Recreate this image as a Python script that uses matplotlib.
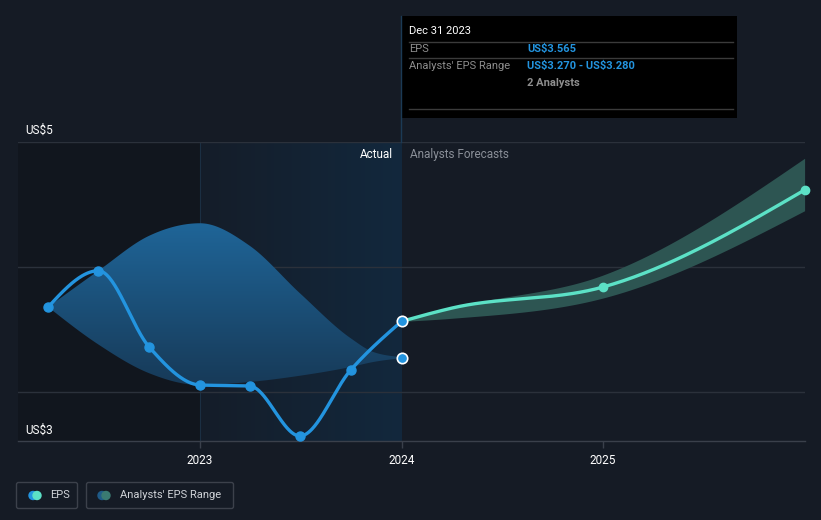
import numpy as np
import pandas as pd
import matplotlib
matplotlib.use("Agg")
import matplotlib.pyplot as plt
from matplotlib.patches import Rectangle, FancyBboxPatch, Polygon, Circle
from matplotlib.colors import LinearSegmentedColormap, to_rgba

plt.rcParams['font.family'] = ['Roboto', 'DejaVu Sans']

# past EPS (quarterly, trailing)
eps_dates = ["2022-03-31", "2022-06-30", "2022-09-30", "2022-12-31",
             "2023-03-31", "2023-06-30", "2023-09-30", "2023-12-31"]
eps_values = [3.68, 3.97, 3.36, 3.056, 3.048, 2.648, 3.176, 3.565]
# past analysts' EPS range
range_dates = ["2022-03-31", "2022-06-30", "2022-09-30", "2022-12-31",
               "2023-03-31", "2023-06-30", "2023-09-30", "2023-11-10", "2023-12-31"]
range_low = [3.68, 3.38, 3.15, 3.056, 3.08, 3.13, 3.20, 3.24, 3.27]
range_high = [3.68, 3.97, 4.25, 4.35, 4.17, 3.79, 3.43, 3.32, 3.28]

# analysts forecasts
fc_dates = ["2023-12-31", "2024-04-01", "2024-12-31", "2025-12-31"]
fc_values = [3.565, 3.672, 3.84, 4.616]
fc_low = [3.565, 3.59, 3.752, 4.45]
fc_high = [3.565, 3.675, 3.936, 4.87]
fc_marked = [False, False, True, True]

year_ticks = [2023, 2024, 2025]

BG = "#151b25"
BLUE = "#2394df"
MINT = "#5ce1c6"
GRID = "#2b313b"


def to_year(dates):
    d = pd.to_datetime(dates)
    return np.array([t.year + (t.dayofyear - 1) / (366 if t.is_leap_year else 365) for t in d]) \
        + 1.0 / 365


def monotone(x, y, n=60):
    # monotone cubic curve (like d3 curveMonotoneX)
    x = np.asarray(x, float)
    y = np.asarray(y, float)
    h = np.diff(x)
    s = np.diff(y) / h
    t = np.zeros(len(x))
    for i in range(1, len(x) - 1):
        p = (s[i - 1] * h[i] + s[i] * h[i - 1]) / (h[i - 1] + h[i])
        t[i] = (np.sign(s[i - 1]) + np.sign(s[i])) * min(abs(s[i - 1]), abs(s[i]), 0.5 * abs(p))
    t[0] = (3 * s[0] - t[1]) / 2 if len(x) > 2 else s[0]
    t[-1] = (3 * s[-1] - t[-2]) / 2 if len(x) > 2 else s[-1]
    xs, ys = [], []
    for i in range(len(h)):
        u = np.linspace(0, 1, n)
        h00 = 2 * u ** 3 - 3 * u ** 2 + 1
        h10 = u ** 3 - 2 * u ** 2 + u
        h01 = -2 * u ** 3 + 3 * u ** 2
        h11 = u ** 3 - u ** 2
        xs.append(x[i] + u * h[i])
        ys.append(h00 * y[i] + h10 * h[i] * t[i] + h01 * y[i + 1] + h11 * h[i] * t[i + 1])
    return np.concatenate(xs), np.concatenate(ys)


def gradient_band(ax, x, lo, hi, c_top, c_bot, z):
    poly = Polygon(np.column_stack([np.r_[x, x[::-1]], np.r_[hi, lo[::-1]]]),
                   closed=True, facecolor='none', edgecolor='none')
    ax.add_patch(poly)
    cmap = LinearSegmentedColormap.from_list('g', [c_bot, c_top])
    grad = np.linspace(0, 1, 256).reshape(-1, 1)
    im = ax.imshow(grad, cmap=cmap, aspect='auto', origin='lower', interpolation='bilinear',
                   extent=[x.min(), x.max(), min(lo.min(), hi.min()), max(lo.max(), hi.max())], zorder=z)
    im.set_clip_path(poly)


W, H = 821, 520
fig = plt.figure(figsize=(W / 100, H / 100), dpi=100, facecolor=BG)
ax = fig.add_axes([18 / W, 1 - 441 / H, (805 - 18) / W, (441 - 142) / H])
ax.set_facecolor(BG)

x_eps = to_year(eps_dates)
x_rng = to_year(range_dates)
x_fc = to_year(fc_dates)
x0, x1 = 2022.097, 2026.002
y0, y1 = 2.608, 5.0

# past / actual shading
ax.add_patch(Rectangle((x0, y0), 2023.0 - x0, y1 - y0, facecolor="#11161e", edgecolor='none', zorder=0))
hl = np.zeros((1, 256, 4))
ca, cb = np.array(to_rgba("#151d29")), np.array(to_rgba("#12283d"))
for i in range(256):
    hl[0, i] = ca + (cb - ca) * i / 255
ax.imshow(hl, aspect='auto', extent=[2023.0, x_eps[-1], y0, y1], zorder=0, interpolation='bilinear')
ax.axvline(2023.0, color="#1b2f42", lw=0.8, zorder=0.5)

for v in [3, 4, 5]:
    ax.axhline(v, color=GRID, lw=1, zorder=1)

# past analysts' range
bx, bl = monotone(x_rng, range_low)
_, bh = monotone(x_rng, range_high)
gradient_band(ax, bx, bl, bh, "#1f6598", "#173a58", 2)

# forecast range
fx, fl = monotone(x_fc, fc_low)
_, fh = monotone(x_fc, fc_high)
ax.fill_between(fx, fl, fh, color="#2d5552", lw=0, zorder=2)

# EPS lines
ex, ey = monotone(x_eps, eps_values)
ax.plot(ex, ey, color=BLUE, lw=2.4, zorder=4, solid_capstyle='round')
ax.plot(x_eps[:-1], eps_values[:-1], 'o', color=BLUE, ms=6.5, zorder=5)
fxx, fyy = monotone(x_fc, fc_values)
ax.plot(fxx, fyy, color=MINT, lw=2.4, zorder=4, solid_capstyle='round')
mx = [a for a, m in zip(x_fc, fc_marked) if m]
my = [b for b, m in zip(fc_values, fc_marked) if m]
ax.plot(mx, my, 'o', color=MINT, ms=6, zorder=5, clip_on=False)
ax.plot([x_eps[-1], x_eps[-1]], [eps_values[-1], range_low[-1] + 0.005], 'o', color=BLUE,
        mec='white', mew=1.2, ms=7.5, zorder=6)

ax.set_xlim(x0, x1)
ax.set_ylim(y0, y1)
for s in ['top', 'right', 'left']:
    ax.spines[s].set_visible(False)
ax.spines['bottom'].set_color("#3a404b")
ax.spines['bottom'].set_linewidth(1)
ax.set_yticks([])
ax.set_xticks(year_ticks)
ax.set_xticklabels([str(y) for y in year_ticks])
ax.tick_params(axis='x', colors="#3a404b", length=5, width=1, labelcolor="white", labelsize=8.5, pad=4)

ax.text(x_eps[-1] - 0.04, 4.9, "Actual", color="white", fontsize=8.5, ha='right', va='center', zorder=7)
ax.text(x_eps[-1] + 0.04, 4.9, "Analysts Forecasts", color="#8a8f98", fontsize=8.5, ha='left', va='center', zorder=7)

# overlay in pixel coordinates for tooltip, labels and legend
ov = fig.add_axes([0, 0, 1, 1], zorder=10)
ov.set_xlim(0, W)
ov.set_ylim(H, 0)
ov.axis('off')
ov.patch.set_alpha(0)

ov.text(25, 130, "US\\$5", color="white", fontsize=8.5, va='center', ha='left')
ov.text(25, 430, "US\\$3", color="white", fontsize=8.5, va='center', ha='left')

ov.plot([401, 401], [16, 142], color="#1b3a55", lw=1)
ov.add_patch(Rectangle((401, 16), 336, 102, facecolor="black", edgecolor='none'))
for yy in [41.5, 58, 109]:
    ov.plot([409, 733], [yy, yy], color="#3b3b3b", lw=1)
ov.text(409, 31, "Dec 31 2023", color="white", fontsize=8, va='center')
ov.text(409, 49, "EPS", color="#8e8e8e", fontsize=8, va='center')
ov.text(527, 49, "US\\$3.565", color=BLUE, fontsize=8, va='center', fontweight='bold')
ov.text(409, 66, "Analysts' EPS Range", color="#8e8e8e", fontsize=8, va='center')
ov.text(527, 66, "US\\$3.270 - US\\$3.280", color=BLUE, fontsize=8, va='center', fontweight='bold')
ov.text(527, 83, "2 Analysts", color="#8e8e8e", fontsize=8, va='center', fontweight='bold')

# legend
ov.add_patch(FancyBboxPatch((16.5, 482.5), 61, 26, boxstyle="round,pad=0,rounding_size=2",
                            facecolor='none', edgecolor="#3c414b", lw=1))
ov.add_patch(FancyBboxPatch((86.5, 482.5), 147, 26, boxstyle="round,pad=0,rounding_size=2",
                            facecolor='none', edgecolor="#3c414b", lw=1))
ov.add_patch(Circle((33, 495.5), 4, color=BLUE))
ov.add_patch(Circle((37, 495.5), 4, color=MINT))
ov.text(50, 495.5, "EPS", color="#d0d3d8", fontsize=8, va='center')
ov.add_patch(Circle((102, 495.5), 4, color="#1f5b88"))
ov.add_patch(Circle((106, 495.5), 4, color="#3a7a72"))
ov.text(120, 495.5, "Analysts' EPS Range", color="#d0d3d8", fontsize=8, va='center')

fig.savefig("out.png", dpi=100, facecolor=BG)
